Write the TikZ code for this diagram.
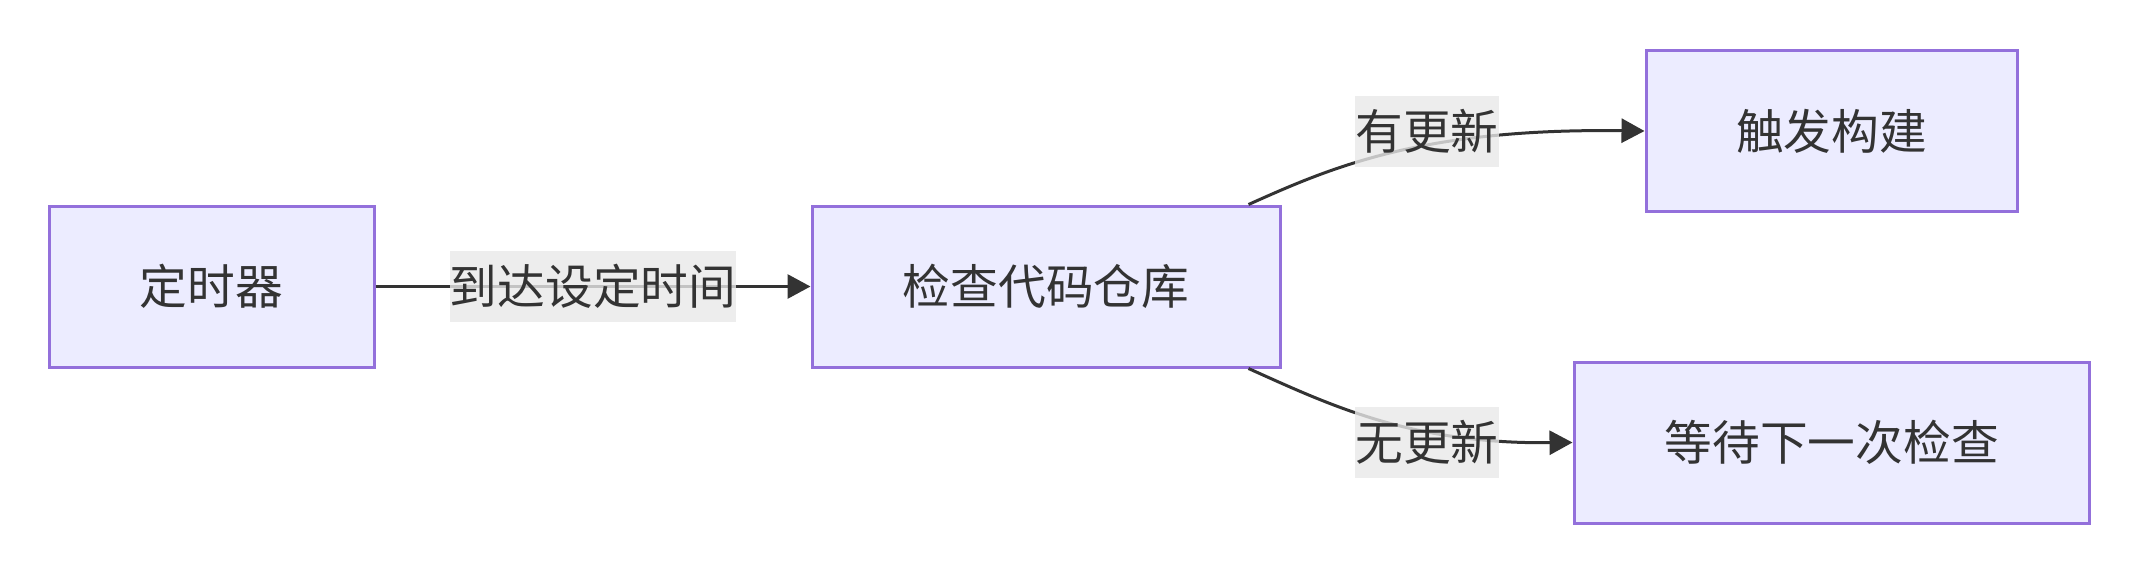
\documentclass[tikz,border=0pt]{standalone}
\usepackage{fontspec}
\newfontfamily\cjk{Noto Sans CJK SC}
\usetikzlibrary{arrows.meta,calc}
\definecolor{nodefill}{HTML}{ECECFF}
\definecolor{nodeline}{HTML}{9370DB}
\definecolor{ink}{HTML}{333333}
\definecolor{lblbg}{HTML}{E8E8E8}
\begin{document}
\begin{tikzpicture}[x=1pt,y=-1pt,
  txt/.style={text=ink, font=\cjk\fontsize{47.7pt}{57pt}\selectfont, text height=38.2pt, text depth=1.9pt, inner sep=0pt},
  box/.style={txt, draw=nodeline, fill=nodefill, line width=3pt, minimum height=161pt},
  lbl/.style={txt, fill=lblbg, fill opacity=0.8, text opacity=1, minimum height=71pt},
  edge/.style={draw=ink, line width=3pt, -{Triangle[length=23pt,width=24pt]}}]
\useasboundingbox (0,0) rectangle (2140,574);
\node[box, minimum width=325pt] (timer) at (211.5,286.5) {定时器};
\node[box, minimum width=468pt] (check) at (1046,286.5) {检查代码仓库};
\node[box, minimum width=371pt] (build) at (1831.5,131) {触发构建};
\node[box, minimum width=515.5pt] (wait) at (1831.75,442.5) {等待下一次检查};
\draw[edge] (timer.east) -- node[lbl] (l1) {到达设定时间} (check.west);
\draw[edge] ($(check.north east)+(-33,0)$) .. controls (1330,168) and (1420,128) .. (build.west);
\draw[edge] ($(check.south east)+(-33,0)$) .. controls (1330,405) and (1410,444) .. (wait.west);
\node[lbl] (l2) at (1427,131) {有更新};
\node[lbl] (l3) at (1427,442.5) {无更新};
\end{tikzpicture}
\end{document}
